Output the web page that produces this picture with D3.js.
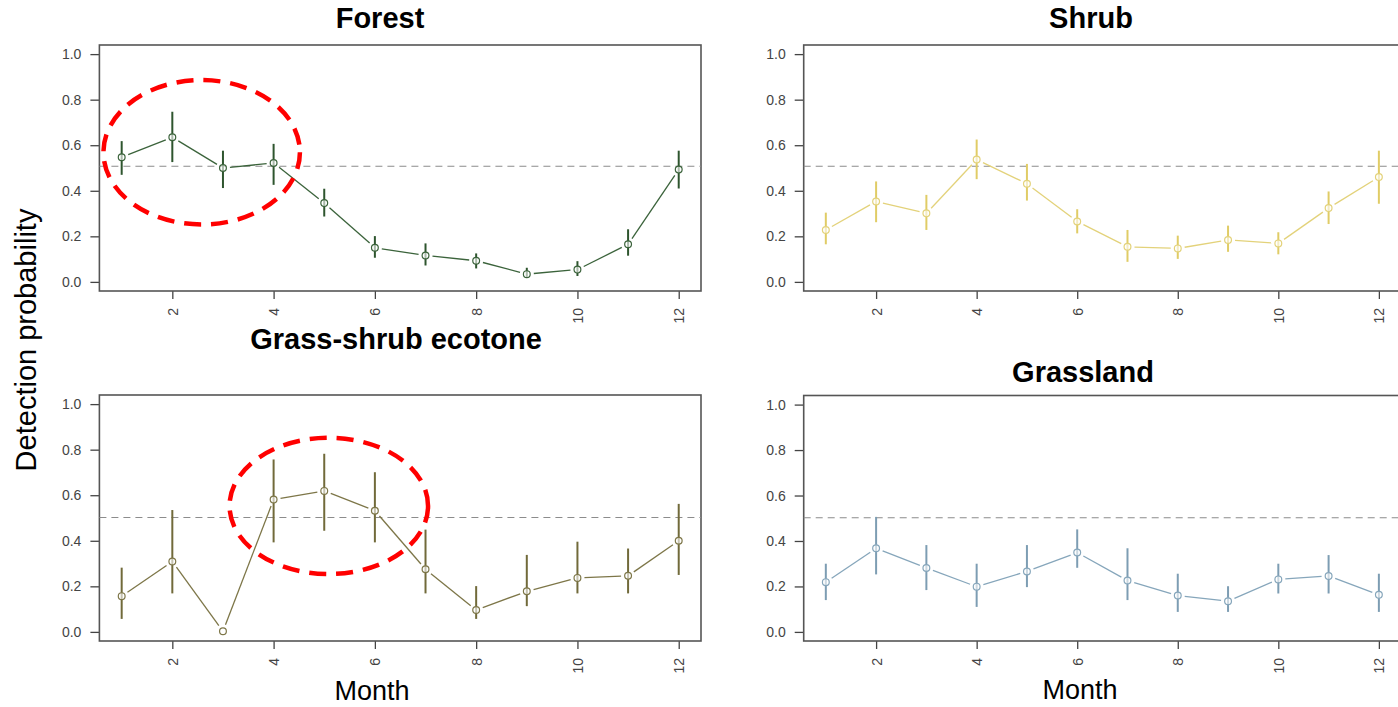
<!DOCTYPE html>
<html>
<head>
<meta charset="utf-8">
<script src="https://cdn.jsdelivr.net/npm/d3@7"></script>
<style>
    body { margin: 0; background: #fff; }
    svg { display: block; font-family: Arial, "Liberation Sans", sans-serif; }
</style>
</head>
<body>
<svg id="chart" width="1398" height="707"></svg>
<script>
// Monthly detection probability (estimate, lower and upper limit)
var months = [1, 2, 3, 4, 5, 6, 7, 8, 9, 10, 11, 12];
var xTicks = [2, 4, 6, 8, 10, 12];
var yTicks = [0, 0.2, 0.4, 0.6, 0.8, 1.0];

var forestEst = [0.547, 0.635, 0.500, 0.522, 0.346, 0.150, 0.116, 0.093, 0.034, 0.054, 0.165, 0.493];
var forestLo  = [0.470, 0.526, 0.412, 0.426, 0.287, 0.106, 0.072, 0.059, 0.019, 0.026, 0.115, 0.410];
var forestHi  = [0.618, 0.747, 0.576, 0.606, 0.409, 0.201, 0.169, 0.125, 0.062, 0.091, 0.231, 0.576];

var shrubEst = [0.228, 0.353, 0.301, 0.537, 0.431, 0.265, 0.154, 0.147, 0.184, 0.169, 0.324, 0.460];
var shrubLo  = [0.165, 0.262, 0.228, 0.451, 0.357, 0.213, 0.088, 0.101, 0.132, 0.121, 0.254, 0.343];
var shrubHi  = [0.304, 0.441, 0.382, 0.625, 0.518, 0.319, 0.228, 0.203, 0.247, 0.218, 0.397, 0.576];

var ecotoneEst = [0.157, 0.309, 0.003, 0.581, 0.619, 0.532, 0.275, 0.096, 0.178, 0.237, 0.246, 0.400];
var ecotoneLo  = [0.057, 0.169, 0.003, 0.393, 0.444, 0.393, 0.169, 0.057, 0.113, 0.169, 0.169, 0.250];
var ecotoneHi  = [0.282, 0.535, 0.003, 0.757, 0.782, 0.701, 0.449, 0.201, 0.338, 0.396, 0.366, 0.562];

var grassEst = [0.219, 0.368, 0.281, 0.199, 0.266, 0.349, 0.226, 0.160, 0.135, 0.231, 0.246, 0.163];
var grassLo  = [0.140, 0.253, 0.184, 0.110, 0.197, 0.282, 0.140, 0.088, 0.088, 0.169, 0.169, 0.088];
var grassHi  = [0.300, 0.506, 0.382, 0.300, 0.382, 0.451, 0.368, 0.256, 0.201, 0.300, 0.338, 0.256];

var refLevel = [0.508, 0.508, 0.502, 0.502];

// Red dashed highlight ellipses, in data units (month, probability)
var highlights = [
    { panel: 0, cx: 2.58, cy: 0.569, rx: 1.94, ry: 0.317 },
    { panel: 2, cx: 5.09, cy: 0.553, rx: 1.96, ry: 0.299 }
];

var panels = [
    { title: 'Forest', est: forestEst, lo: forestLo, hi: forestHi,
      line: '#3b633b', bar: '#2e552e',
      box: [99.4, 701, 45, 291], titleX: 380, titleY: 28 },
    { title: 'Shrub', est: shrubEst, lo: shrubLo, hi: shrubHi,
      line: '#e3d27a', bar: '#e0cc66',
      box: [803.7, 1401, 45, 291], titleX: 1091, titleY: 28 },
    { title: 'Grass-shrub ecotone', est: ecotoneEst, lo: ecotoneLo, hi: ecotoneHi,
      line: '#7d7648', bar: '#716a3a',
      box: [99.4, 701, 395, 641], titleX: 396, titleY: 349 },
    { title: 'Grassland', est: grassEst, lo: grassLo, hi: grassHi,
      line: '#86a6bb', bar: '#7d9db3',
      box: [803.7, 1401, 395.5, 641], titleX: 1083, titleY: 382 }
];

var svg = d3.select('svg#chart');

function drawPanel(p, i) {
    var x = d3.scaleLinear().domain([0.56, 12.44]).range([p.box[0], p.box[1]]);
    var y = d3.scaleLinear().domain([-0.04, 1.04]).range([p.box[3], p.box[2]]);
    var g = svg.append('g').attr('class', 'panel');

    // title
    g.append('text')
        .attr('x', p.titleX)
        .attr('y', p.titleY)
        .attr('text-anchor', 'middle')
        .style('font-size', '29px')
        .style('font-weight', 'bold')
        .text(p.title);

    // axes
    var yAxis = d3.axisLeft(y)
        .tickValues(yTicks)
        .tickSize(9)
        .tickPadding(9)
        .tickFormat(d3.format('.1f'));
    var gy = g.append('g')
        .attr('transform', 'translate(' + p.box[0] + ',0)')
        .call(yAxis);

    var xAxis = d3.axisBottom(x)
        .tickValues(xTicks)
        .tickSize(8)
        .tickFormat(d3.format('d'));
    var gx = g.append('g')
        .attr('transform', 'translate(0,' + p.box[3] + ')')
        .call(xAxis);

    gx.selectAll('text')
        .attr('transform', 'rotate(-90)')
        .attr('x', -17)
        .attr('y', 0)
        .attr('dy', '0.35em')
        .style('text-anchor', 'end');

    [gx, gy].forEach(function(a) {
        a.select('.domain').remove();
        a.selectAll('line').attr('stroke', '#444').attr('stroke-width', 1.3);
        a.selectAll('text')
            .attr('fill', '#444')
            .style('font-size', '14px')
            .style('font-family', 'Arial, "Liberation Sans", sans-serif');
    });

    // box
    g.append('rect')
        .attr('x', p.box[0])
        .attr('y', p.box[2])
        .attr('width', p.box[1] - p.box[0])
        .attr('height', p.box[3] - p.box[2])
        .attr('fill', 'none')
        .attr('stroke', '#555')
        .attr('stroke-width', 1.6);

    // reference line
    g.append('line')
        .attr('x1', p.box[0])
        .attr('x2', p.box[1])
        .attr('y1', y(refLevel[i]))
        .attr('y2', y(refLevel[i]))
        .attr('stroke', '#8c8c8c')
        .attr('stroke-width', 1.1)
        .attr('stroke-dasharray', '7,5');

    var pts = months.map(function(m, k) {
        return { px: x(m), py: y(p.est[k]), lo: y(p.lo[k]), hi: y(p.hi[k]) };
    });

    // connecting segments, type "b" style with gaps around the points
    var gap = 7;
    var segs = d3.pairs(pts).map(function(pair) {
        var a = pair[0], b = pair[1];
        var dx = b.px - a.px, dy = b.py - a.py;
        var len = Math.sqrt(dx * dx + dy * dy);
        var ux = dx / len, uy = dy / len;
        return { x1: a.px + ux * gap, y1: a.py + uy * gap, x2: b.px - ux * gap, y2: b.py - uy * gap };
    });

    g.selectAll('line.seg')
        .data(segs)
        .join('line')
        .classed('seg', true)
        .attr('x1', function(d) { return d.x1; })
        .attr('y1', function(d) { return d.y1; })
        .attr('x2', function(d) { return d.x2; })
        .attr('y2', function(d) { return d.y2; })
        .attr('stroke', p.line)
        .attr('stroke-width', 1.3);

    // error bars
    g.selectAll('line.err')
        .data(pts)
        .join('line')
        .classed('err', true)
        .attr('x1', function(d) { return d.px; })
        .attr('x2', function(d) { return d.px; })
        .attr('y1', function(d) { return d.lo; })
        .attr('y2', function(d) { return d.hi; })
        .attr('stroke', p.bar)
        .attr('stroke-width', 2);

    // points
    g.selectAll('circle.pt')
        .data(pts)
        .join('circle')
        .classed('pt', true)
        .attr('cx', function(d) { return d.px; })
        .attr('cy', function(d) { return d.py; })
        .attr('r', 3.4)
        .attr('fill', '#fff')
        .attr('fill-opacity', 0.6)
        .attr('stroke', p.line)
        .attr('stroke-width', 1.2);

    // highlight ellipses
    highlights.filter(function(h) { return h.panel === i; }).forEach(function(h) {
        g.append('ellipse')
            .attr('cx', x(h.cx))
            .attr('cy', y(h.cy))
            .attr('rx', x(h.cx + h.rx) - x(h.cx))
            .attr('ry', y(h.cy) - y(h.cy + h.ry))
            .attr('fill', 'none')
            .attr('stroke', '#ff0000')
            .attr('stroke-width', 4.5)
            .attr('stroke-dasharray', '17,10');
    });
}

panels.forEach(drawPanel);

// shared labels
svg.append('text')
    .attr('transform', 'translate(36,340)rotate(-90)')
    .attr('text-anchor', 'middle')
    .style('font-size', '29px')
    .text('Detection probability');

svg.append('text')
    .attr('x', 372)
    .attr('y', 700)
    .attr('text-anchor', 'middle')
    .style('font-size', '27px')
    .text('Month');

svg.append('text')
    .attr('x', 1080)
    .attr('y', 699)
    .attr('text-anchor', 'middle')
    .style('font-size', '27px')
    .text('Month');
</script>
</body>
</html>
